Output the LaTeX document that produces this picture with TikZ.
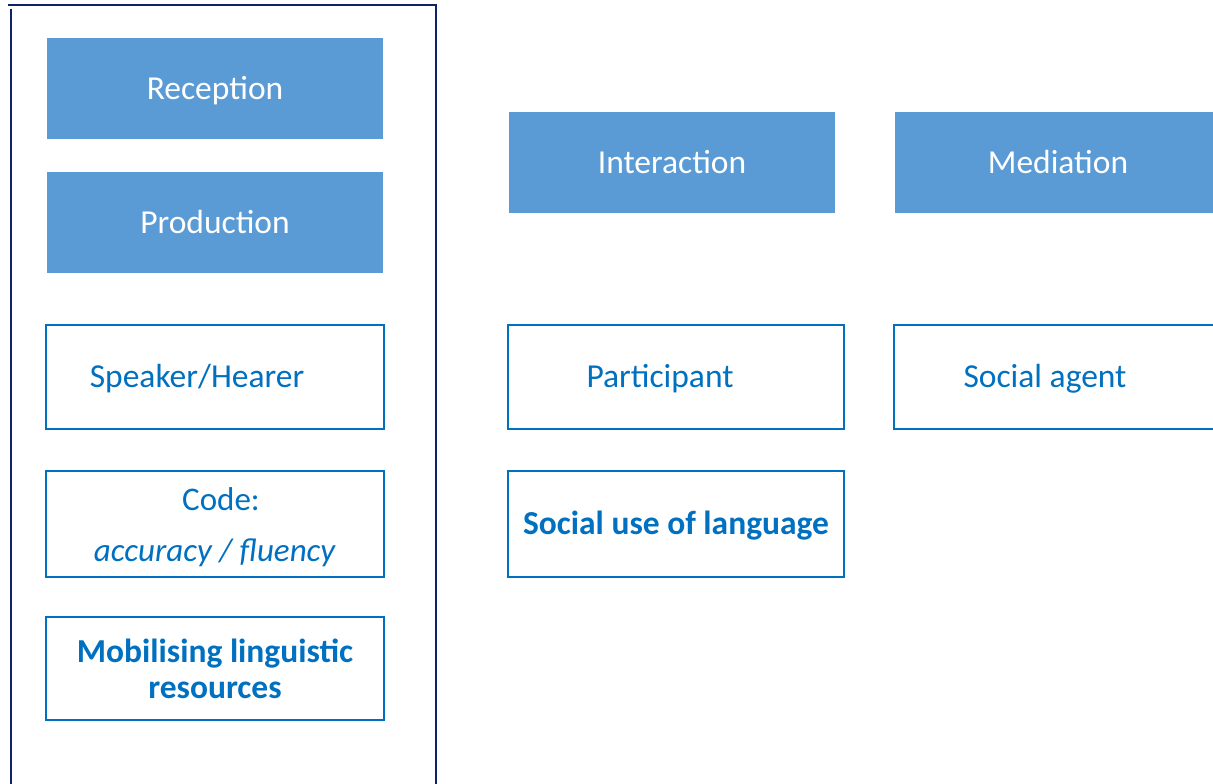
\documentclass[tikz,border=0pt]{standalone}
\usepackage{fontspec}
\setmainfont{Carlito}
\definecolor{fillblue}{HTML}{5B9BD5}
\definecolor{lineblue}{HTML}{0070C0}
\definecolor{navy}{HTML}{0B2468}
\begin{document}
\begin{tikzpicture}[x=1pt,y=-1pt,
  filledbox/.style={rectangle, fill=fillblue, draw=none, text=white, inner sep=0pt,
    font=\fontsize{33.5}{40}\selectfont, text height=21.5pt, text depth=0pt},
  outbox/.style={rectangle, draw=lineblue, line width=1.8pt, fill=white, text=lineblue, inner sep=0pt,
    font=\fontsize{33.5}{40}\selectfont, text height=21.5pt, text depth=0pt},
  multibox/.style={rectangle, draw=lineblue, line width=1.8pt, fill=white, text=lineblue, inner sep=0pt},
  multitext/.style={text=lineblue, inner sep=0pt, align=center},
  framestyle/.style={draw=navy, line width=2pt}]
\useasboundingbox (0,0) rectangle (1213,784);
\clip (0,0) rectangle (1213,784);
% frame
\draw[framestyle] (8,5) -- (436,5) -- (436,784);
\draw[framestyle] (10.5,9) -- (10.5,784);
% filled boxes
\node[filledbox, minimum width=336pt, minimum height=101pt] (rec) at (215,88.5) {Reception};
\node[filledbox, minimum width=336pt, minimum height=101pt] (prod) at (215,222.5) {Production};
\node[filledbox, minimum width=326pt, minimum height=101pt] (inter) at (672,162.5) {Interaction};
\node[filledbox, minimum width=326pt, minimum height=101pt] (med) at (1058,162.5) {Mediation};
% outline boxes
\node[outbox, minimum width=338pt, minimum height=104pt] (sh) at (215,377) {\hspace*{-36pt}Speaker/Hearer};
\node[outbox, minimum width=336pt, minimum height=104pt] (part) at (676,377) {\hspace*{-32pt}Participant};
\node[outbox, minimum width=336pt, minimum height=104pt] (sa) at (1062,377) {\hspace*{-34pt}Social agent};
\node[outbox, minimum width=336pt, minimum height=106pt, font=\fontsize{33.5}{40}\selectfont\bfseries] (sul) at (676,524) {Social use of language};
\node[multibox, minimum width=338pt, minimum height=106pt] (code) at (215,524) {};
\node[multitext, font=\fontsize{33}{51}\selectfont] (codetext) at ([yshift=-3.5pt]code.center) {\hspace*{12pt}Code:\\\textit{accuracy / fluency}};
\node[multibox, minimum width=338pt, minimum height=103pt] (mob) at (215,668.5) {};
\node[multitext, font=\fontsize{33.5}{36}\selectfont\bfseries] (mobtext) at (mob.center) {Mobilising linguistic\\resources};
\end{tikzpicture}
\end{document}
